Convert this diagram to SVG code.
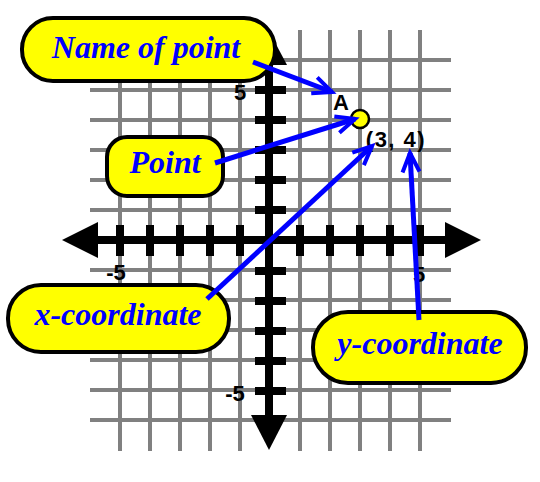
<svg xmlns="http://www.w3.org/2000/svg" width="540" height="482" viewBox="0 0 540 482">
<defs>
<style>
.grid line{stroke:#808080;stroke-width:4}
.axis{stroke:#000;stroke-width:8}
.tick{stroke:#000;stroke-width:8}
.num{font-family:"Liberation Sans",Arial,sans-serif;font-weight:bold;font-size:22px;fill:#000}
.box{fill:#ffff00;stroke:#000;stroke-width:4}
.lbl{font-family:"Liberation Serif","Times New Roman",serif;font-weight:bold;font-style:italic;font-size:32px;fill:#0000ff;text-anchor:middle}
.conn line{stroke:#0000ff;stroke-width:5;marker-end:url(#ah)}
</style>
<marker id="ah" markerUnits="userSpaceOnUse" viewBox="-24 -14 30 28" refX="0" refY="0" markerWidth="30" markerHeight="28" orient="auto" overflow="visible">
<path d="M-19,-8.5 L0,0 L-19,8.5" fill="none" stroke="#0000ff" stroke-width="4"/>
</marker>
</defs>
<rect width="540" height="482" fill="#fff"/>
<g id="grid" class="grid">
<line x1="90" y1="60" x2="451" y2="60"/><line x1="90" y1="90" x2="451" y2="90"/><line x1="90" y1="120" x2="451" y2="120"/><line x1="90" y1="150" x2="451" y2="150"/><line x1="90" y1="180" x2="451" y2="180"/><line x1="90" y1="210" x2="451" y2="210"/><line x1="90" y1="270" x2="451" y2="270"/><line x1="90" y1="300" x2="451" y2="300"/><line x1="90" y1="330" x2="451" y2="330"/><line x1="90" y1="360" x2="451" y2="360"/><line x1="90" y1="390" x2="451" y2="390"/><line x1="90" y1="420" x2="451" y2="420"/>
<line x1="120" y1="30" x2="120" y2="451"/><line x1="150" y1="30" x2="150" y2="451"/><line x1="180" y1="30" x2="180" y2="451"/><line x1="210" y1="30" x2="210" y2="451"/><line x1="240" y1="30" x2="240" y2="451"/><line x1="300" y1="30" x2="300" y2="451"/><line x1="330" y1="30" x2="330" y2="451"/><line x1="360" y1="30" x2="360" y2="451"/><line x1="390" y1="30" x2="390" y2="451"/><line x1="420" y1="30" x2="420" y2="451"/>
</g>
<g id="axes">
<line class="axis" x1="96" y1="240" x2="447" y2="240"/>
<line class="axis" x1="269" y1="63" x2="269" y2="417"/>
<polygon points="62,240 98,222 98,258" fill="#000"/>
<polygon points="481,240 445,222 445,258" fill="#000"/>
<polygon points="269,31 251,65 287,65" fill="#000"/>
<polygon points="269,450 251,415 287,415" fill="#000"/>
<g class="tick">
<line x1="120" y1="225" x2="120" y2="256"/><line x1="150" y1="225" x2="150" y2="256"/><line x1="180" y1="225" x2="180" y2="256"/><line x1="210" y1="225" x2="210" y2="256"/><line x1="240" y1="225" x2="240" y2="256"/><line x1="300" y1="225" x2="300" y2="256"/><line x1="330" y1="225" x2="330" y2="256"/><line x1="360" y1="225" x2="360" y2="256"/><line x1="390" y1="225" x2="390" y2="256"/><line x1="420" y1="225" x2="420" y2="256"/>
<line x1="255" y1="90" x2="286" y2="90"/><line x1="255" y1="120" x2="286" y2="120"/><line x1="255" y1="150" x2="286" y2="150"/><line x1="255" y1="180" x2="286" y2="180"/><line x1="255" y1="210" x2="286" y2="210"/><line x1="255" y1="271" x2="286" y2="271"/><line x1="255" y1="301" x2="286" y2="301"/><line x1="255" y1="331" x2="286" y2="331"/><line x1="255" y1="361" x2="286" y2="361"/><line x1="255" y1="391" x2="286" y2="391"/>
</g>
<text class="num" x="240" y="100" text-anchor="middle">5</text>
<text class="num" x="116" y="280" text-anchor="middle">-5</text>
<text class="num" x="419" y="282" text-anchor="middle">5</text>
<text class="num" x="235" y="401" text-anchor="middle">-5</text>
</g>
<g id="pointA">
<circle cx="360" cy="119" r="9" fill="#ffff00" stroke="#000" stroke-width="2.5"/>
<text class="num" x="341" y="110" text-anchor="middle">A</text>
<text class="num" x="396" y="147" text-anchor="middle" letter-spacing="1.5">(3, 4)</text>
</g>
<g id="name-of-point">
<rect class="box" x="22" y="18" width="253" height="63" rx="31"/>
<text class="lbl" x="146" y="58">Name of point</text>
</g>
<g id="point">
<rect class="box" x="107" y="137" width="116" height="59" rx="20"/>
<text class="lbl" x="165" y="173">Point</text>
</g>
<g id="x-coordinate">
<rect class="box" x="8" y="285" width="221" height="67" rx="33"/>
<text class="lbl" x="118" y="325">x-coordinate</text>
</g>
<g id="y-coordinate">
<rect class="box" x="313" y="312" width="213" height="71" rx="35"/>
<text class="lbl" x="420" y="354">y-coordinate</text>
</g>
<g id="connectors" class="conn">
<line x1="253" y1="62" x2="332" y2="92"/>
<line x1="215" y1="163" x2="355" y2="119"/>
<line x1="207" y1="299" x2="372" y2="146"/>
<line x1="419" y1="320" x2="410" y2="153"/>
</g>
</svg>
